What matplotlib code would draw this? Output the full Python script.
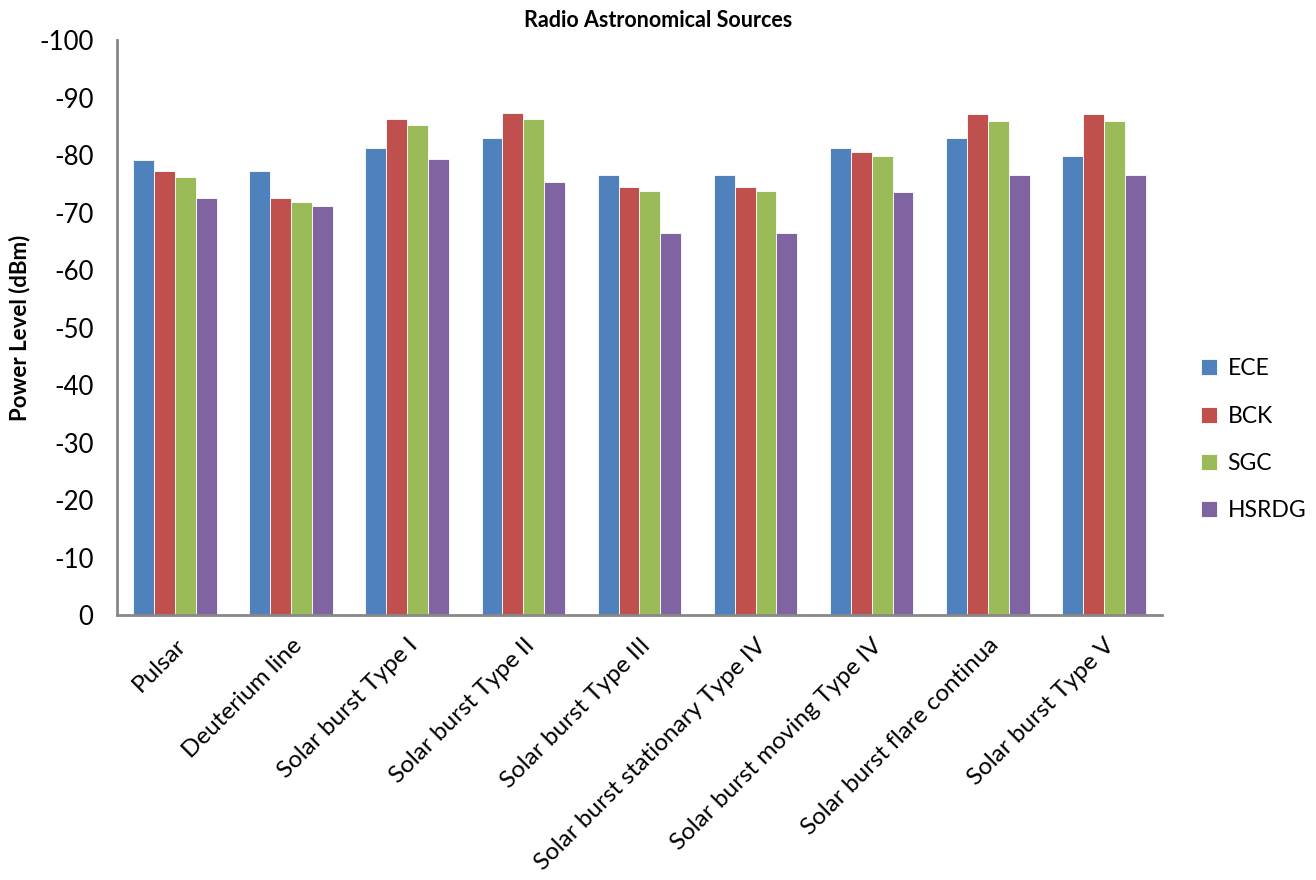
import numpy as np
import matplotlib
matplotlib.use("Agg")
import matplotlib.pyplot as plt

plt.rcParams['font.family'] = ['Lato', 'DejaVu Sans']

categories = ['Pulsar', 'Deuterium line', 'Solar burst Type I', 'Solar burst Type II',
              'Solar burst Type III', 'Solar burst stationary Type IV',
              'Solar burst moving Type IV', 'Solar burst flare continua', 'Solar burst Type V']
ece = [-79.1, -77.3, -81.2, -82.9, -76.5, -76.5, -81.2, -82.9, -79.8]
bck = [-77.2, -72.6, -86.2, -87.4, -74.4, -74.4, -80.5, -87.1, -87.1]
sgc = [-76.2, -71.9, -85.3, -86.3, -73.8, -73.8, -79.8, -86.0, -86.0]
hsrdg = [-72.6, -71.1, -79.4, -75.4, -66.4, -66.4, -73.5, -76.6, -76.6]
series_names = ['ECE', 'BCK', 'SGC', 'HSRDG']
colors = ['#4F81BD', '#C0504D', '#9BBB59', '#8064A2']
yticks = list(range(0, -101, -10))

fig = plt.figure(figsize=(13.16, 8.8), dpi=100)
ax = fig.add_axes([0.0889, 0.301, 0.794, 0.6535])

x = np.arange(len(categories))
w = 0.18
for i, (vals, name) in enumerate(zip([ece, bck, sgc, hsrdg], series_names)):
    ax.bar(x + (i - 1.5) * w, vals, width=w, color=colors[i], label=name,
           edgecolor='white', linewidth=0.6)

ax.set_xlim(-0.5, len(categories) - 0.5)
ax.set_ylim(0, -100)
ax.set_yticks(yticks)
ax.set_yticklabels([str(v) for v in yticks], fontsize=18.5)
ax.set_xticks(x)
ax.set_xticklabels(categories, rotation=45, ha='right', rotation_mode='anchor', fontsize=17.5)
ax.tick_params(axis='y', length=0, pad=17)
ax.tick_params(axis='x', length=0, pad=14)

for s in ['top', 'right']:
    ax.spines[s].set_visible(False)
for s in ['left', 'bottom']:
    ax.spines[s].set_color('#888888')
    ax.spines[s].set_linewidth(2)

ax.set_ylabel('Power Level (dBm)', fontsize=16, fontweight='bold', labelpad=6)
fig.text(0.5, 0.977, 'Radio Astronomical Sources', ha='center', va='center',
         fontsize=15.5, fontweight='bold')

ax.legend(loc='center left', bbox_to_anchor=(1.018, 0.305), frameon=False,
          fontsize=16.5, handlelength=0.7, handleheight=0.7, labelspacing=1.15,
          handletextpad=0.45)

fig.savefig('out.png', dpi=100)
